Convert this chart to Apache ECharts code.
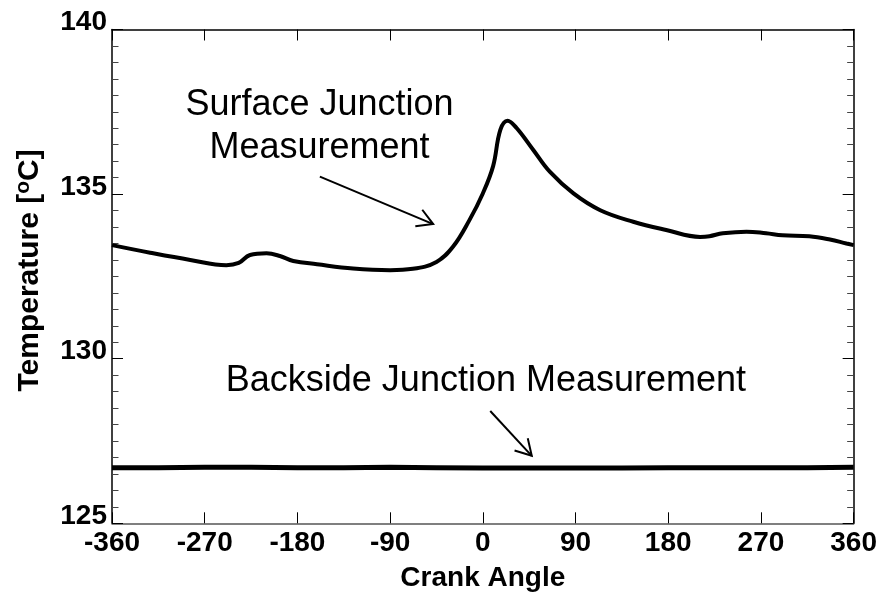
<!DOCTYPE html>
<html><head><meta charset="utf-8">
<script src="https://cdn.jsdelivr.net/npm/echarts@6/dist/echarts.min.js"></script>
<style>html,body{margin:0;padding:0;background:#fff}#c{width:880px;height:598px}</style>
</head><body><div id="c"></div>
<script>
// ---- data ----
const xTickValues = [-360, -270, -180, -90, 0, 90, 180, 270, 360];
const yTickValues = [125, 130, 135, 140];
const surfaceAngle = [-360, -323, -284, -249, -237, -226, -210, -197, -184, -161, -126, -90, -68, -45, -29, -13, 0, 10, 17, 24, 33, 49, 65, 88, 114, 146, 178, 211, 220, 233, 256, 275, 291, 317, 337, 353, 360];
const surfaceTemp  = [133.45, 133.22, 133.00, 132.84, 132.91, 133.15, 133.20, 133.12, 132.97, 132.87, 132.74, 132.69, 132.73, 132.94, 133.40, 134.21, 135.02, 135.85, 136.95, 137.23, 137.00, 136.34, 135.68, 135.02, 134.51, 134.16, 133.91, 133.70, 133.72, 133.81, 133.86, 133.81, 133.75, 133.72, 133.62, 133.50, 133.45];
const backsideAngle = [-360, -315, -270, -225, -180, -135, -90, -45, 0, 45, 90, 135, 180, 225, 270, 315, 360];
const backsideTemp  = [126.69, 126.69, 126.70, 126.70, 126.69, 126.69, 126.70, 126.69, 126.68, 126.68, 126.68, 126.68, 126.69, 126.69, 126.69, 126.69, 126.70];

// annotation anchors in data units [angle, temperature]
const surfaceLabelLines = ['Surface Junction', 'Measurement'];
const surfaceLabelAt = [[-158.5, 137.7], [-158.5, 136.4]];
const surfaceArrow = [[-158.2, 135.53], [-48.2, 134.09]];
const backsideLabel = 'Backside Junction Measurement';
const backsideLabelAt = [3, 129.31];
const backsideArrow = [[7.2, 128.41], [47.5, 127.05]];

const surfaceData = surfaceAngle.map((a, i) => [a, surfaceTemp[i]]);
const backsideData = backsideAngle.map((a, i) => [a, backsideTemp[i]]);

const FONT = '"Liberation Sans", Arial, sans-serif';
const chart = echarts.init(document.getElementById('c'), null, {renderer: 'canvas'});

const option = {
  animation: false,
  backgroundColor: '#fff',
  grid: {left: 112, right: 26, top: 29.5, bottom: 74.7, containLabel: false},
  xAxis: [{
    type: 'value', min: -360, max: 360, interval: 90, position: 'bottom',
    name: 'Crank Angle', nameLocation: 'middle', nameGap: 41,
    nameTextStyle: {fontFamily: FONT, fontWeight: 'bold', fontSize: 28, color: '#000'},
    axisLine: {show: true, onZero: false, lineStyle: {color: '#555', width: 1.5}},
    axisTick: {show: true, inside: true, length: 11, lineStyle: {color: '#000', width: 1}},
    axisLabel: {show: true, margin: 6, fontFamily: FONT, fontWeight: 'bold', fontSize: 28, color: '#000',
      customValues: xTickValues},
    splitLine: {show: false}
  }, {
    type: 'value', min: -360, max: 360, interval: 90, position: 'top',
    axisLine: {show: true, onZero: false, lineStyle: {color: '#000', width: 1.5}},
    axisTick: {show: true, inside: true, length: 11, lineStyle: {color: '#000', width: 1}},
    axisLabel: {show: false}, splitLine: {show: false}
  }],
  yAxis: [{
    type: 'value', min: 125, max: 140, interval: 5, position: 'left',
    name: 'Temperature [{s|o}C]', nameLocation: 'middle', nameGap: 66, nameRotate: 90,
    nameTextStyle: {fontFamily: FONT, fontWeight: 'bold', fontSize: 30, color: '#000', padding: [0, 0, 0, 12],
      rich: {s: {fontFamily: FONT, fontWeight: 'bold', fontSize: 21, color: '#000', verticalAlign: 'top', padding: [0, 0, 12, 0]}}},
    axisLine: {show: true, onZero: false, lineStyle: {color: '#000', width: 1.5}},
    axisTick: {show: true, inside: true, length: 11, lineStyle: {color: '#000', width: 1}},
    minorTick: {show: true, splitNumber: 10, length: 6.5, lineStyle: {color: '#444', width: 1}},
    axisLabel: {show: true, margin: 5, fontFamily: FONT, fontWeight: 'bold', fontSize: 28, color: '#000',
      verticalAlign: 'bottom', lineHeight: 14, customValues: yTickValues},
    splitLine: {show: false}, minorSplitLine: {show: false}
  }, {
    type: 'value', min: 125, max: 140, interval: 5, position: 'right',
    axisLine: {show: true, onZero: false, lineStyle: {color: '#000', width: 1.5}},
    axisTick: {show: true, inside: true, length: 11, lineStyle: {color: '#000', width: 1}},
    minorTick: {show: true, splitNumber: 10, length: 6.5, lineStyle: {color: '#444', width: 1}},
    axisLabel: {show: false}, splitLine: {show: false}, minorSplitLine: {show: false}
  }],
  series: [{
    name: 'Surface Junction Measurement', type: 'line', data: surfaceData,
    xAxisIndex: 0, yAxisIndex: 0, showSymbol: false, smooth: 0.4,
    lineStyle: {color: '#000', width: 4}, z: 5
  }, {
    name: 'Backside Junction Measurement', type: 'line', data: backsideData,
    xAxisIndex: 0, yAxisIndex: 0, showSymbol: false, smooth: false,
    lineStyle: {color: '#000', width: 5}, z: 5
  }]
};
chart.setOption(option);

function px(p) { return chart.convertToPixel({xAxisIndex: 0, yAxisIndex: 0}, p); }
function arrow(a, b) {
  const p1 = px(a), p2 = px(b);
  const ang = Math.atan2(p2[1] - p1[1], p2[0] - p1[0]);
  const L = 18, t = 30 * Math.PI / 180;
  const h1 = [p2[0] - L * Math.cos(ang - t), p2[1] - L * Math.sin(ang - t)];
  const h2 = [p2[0] - L * Math.cos(ang + t), p2[1] - L * Math.sin(ang + t)];
  return [
    {type: 'polyline', shape: {points: [p1, p2]}, style: {stroke: '#000', lineWidth: 2, fill: null}, z: 10},
    {type: 'polyline', shape: {points: [h1, p2, h2]}, style: {stroke: '#000', lineWidth: 2, fill: null}, z: 10}
  ];
}
function label(txt, at) {
  const p = px(at);
  return {type: 'text', x: p[0], y: p[1], z: 10,
    style: {text: txt, fontFamily: FONT, fontSize: 36, fill: '#000', align: 'center', verticalAlign: 'middle'}};
}
const g = [];
surfaceLabelLines.forEach((t, i) => g.push(label(t, surfaceLabelAt[i])));
g.push(...arrow(surfaceArrow[0], surfaceArrow[1]));
g.push(label(backsideLabel, backsideLabelAt));
g.push(...arrow(backsideArrow[0], backsideArrow[1]));
chart.setOption({graphic: g});
</script>
</body></html>
